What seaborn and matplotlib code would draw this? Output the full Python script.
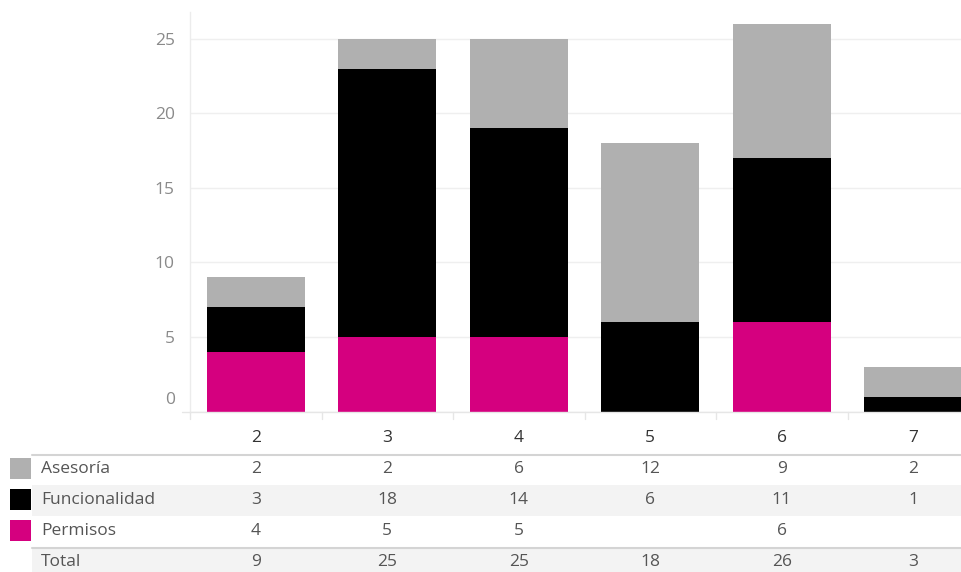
import numpy as np
import pandas as pd
import matplotlib
matplotlib.use("Agg")
import matplotlib.pyplot as plt
import matplotlib.transforms as mtransforms
import seaborn as sns

# --- datos ---
categorias = ["2", "3", "4", "5", "6", "7"]
asesoria = [2, 2, 6, 12, 9, 2]
funcionalidad = [3, 18, 14, 6, 11, 1]
permisos = [4, 5, 5, np.nan, 6, np.nan]

series = ["Asesoría", "Funcionalidad", "Permisos"]
colores = {"Asesoría": "#b0b0b0", "Funcionalidad": "#000000", "Permisos": "#d5007f"}

df = pd.DataFrame({
    "cat": categorias,
    "Asesoría": asesoria,
    "Funcionalidad": funcionalidad,
    "Permisos": permisos,
})
df["perm0"] = df["Permisos"].fillna(0)
df["Total"] = df["Asesoría"] + df["Funcionalidad"] + df["perm0"]
df["FuncPerm"] = df["Funcionalidad"] + df["perm0"]

sns.set_theme(style="white")
plt.rcParams["font.family"] = ["Open Sans", "DejaVu Sans"]

W, H = 961, 572
fig = plt.figure(figsize=(W / 100, H / 100), dpi=100)

# eje principal (barras apiladas)
y0, ytop, xl, xr = 411.5, 12, 190, 961
ax = fig.add_axes([xl / W, (H - y0) / H, (xr - xl) / W, (y0 - ytop) / H])
ancho = 0.745
sns.barplot(data=df, x="cat", y="Total", order=categorias, color=colores["Asesoría"],
            saturation=1, width=ancho, errorbar=None, ax=ax)
sns.barplot(data=df, x="cat", y="FuncPerm", order=categorias, color=colores["Funcionalidad"],
            saturation=1, width=ancho, errorbar=None, ax=ax)
sns.barplot(data=df, x="cat", y="perm0", order=categorias, color=colores["Permisos"],
            saturation=1, width=ancho, errorbar=None, ax=ax)
for p in ax.patches:
    p.set_linewidth(0)

ax.set_xlim(-0.5, 5.363)
ax.set_ylim(0, 26.8)
ax.set_yticks([0, 5, 10, 15, 20, 25])
ax.set_xticks([])
ax.set_xlabel("")
ax.set_ylabel("")
ax.tick_params(axis="y", length=0, pad=11, labelsize=12.5, labelcolor="#8a8a8a")
# la etiqueta del 0 queda un poco por encima de la base
lbl0 = ax.get_yticklabels()[0]
lbl0.set_transform(lbl0.get_transform() + mtransforms.ScaledTranslation(0, 13 / 100, fig.dpi_scale_trans))
ax.grid(axis="y", color="#efefef", linewidth=1)
ax.set_axisbelow(True)
for s in ["top", "right", "bottom"]:
    ax.spines[s].set_visible(False)
ax.spines["left"].set_color("#ececec")
ax.spines["left"].set_linewidth(1)

# --- tabla inferior ---
tab = fig.add_axes([0, 0, 1, (H - y0 + 1) / H])
tab.set_xlim(0, W)
tab.set_ylim(H, y0 - 1)
tab.axis("off")
tr = mtransforms.blended_transform_factory(ax.transData, tab.transData)

# linea base y separadores de columnas
tab.plot([182, W], [412, 412], color="#e6e6e6", lw=1)
for i in range(len(categorias)):
    tab.plot([i - 0.5, i - 0.5], [412, 419], color="#e6e6e6", lw=1, transform=tr)

# fondos alternos y lineas
tab.axhspan(485, 516, xmin=32 / W, xmax=1, color="#f3f3f3", lw=0)
tab.axhspan(548, 572, xmin=32 / W, xmax=1, color="#f3f3f3", lw=0)
tab.plot([32, W], [455, 455], color="#d4d4d4", lw=1.5)
tab.plot([32, W], [547.5, 547.5], color="#d4d4d4", lw=1.5)

fs = 12.5
txt_col = "#555555"
for i, c in enumerate(categorias):
    tab.text(i, 438, c, ha="center", va="center", fontsize=fs, color="#333333", transform=tr)

filas_y = {"Asesoría": 469, "Funcionalidad": 500, "Permisos": 531}
for s in series:
    yy = filas_y[s]
    tab.add_patch(plt.Rectangle((10, yy - 11), 21, 21, color=colores[s], lw=0))
    tab.text(41, yy, s, ha="left", va="center", fontsize=fs, color=txt_col)
    for i, v in enumerate(df[s]):
        if not np.isnan(v):
            tab.text(i, yy, f"{int(v)}", ha="center", va="center", fontsize=fs,
                     color=txt_col, transform=tr)

tab.text(41, 562, "Total", ha="left", va="center", fontsize=fs, color=txt_col)
for i, v in enumerate(df["Total"]):
    tab.text(i, 562, f"{int(v)}", ha="center", va="center", fontsize=fs,
             color=txt_col, transform=tr)

fig.savefig("out.png", dpi=100)
